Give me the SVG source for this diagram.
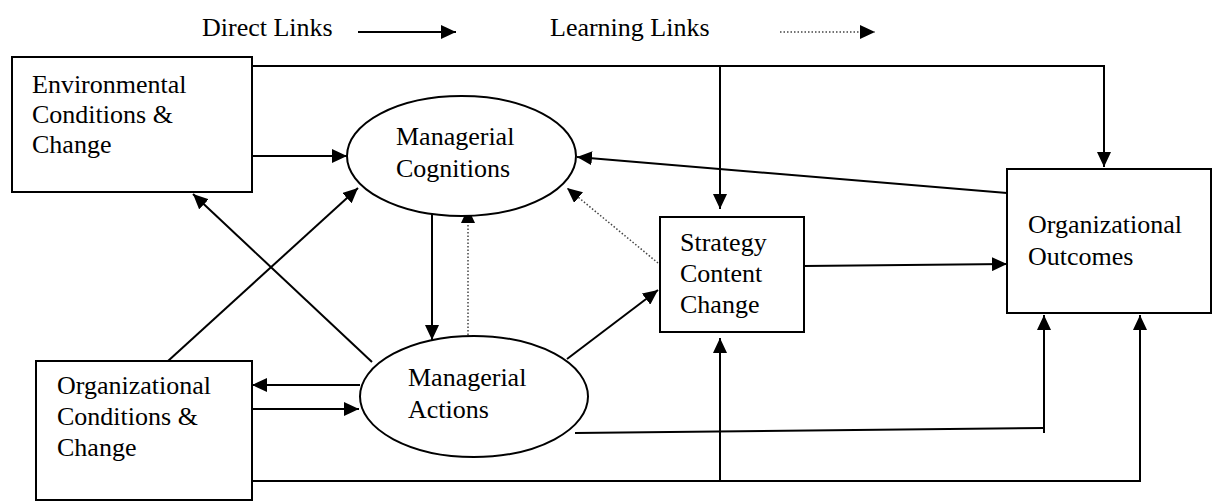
<svg xmlns="http://www.w3.org/2000/svg" width="1217" height="503" viewBox="0 0 1217 503">
<defs>
<marker id="ah" markerUnits="userSpaceOnUse" markerWidth="16" markerHeight="14" refX="15" refY="7" orient="auto">
<path d="M0,0 L15,7 L0,14 z" fill="#000"/>
</marker>
<style>
text{font-family:"Liberation Serif","Times New Roman",serif;font-size:26px;fill:#000}
.box{fill:#fff;stroke:#000;stroke-width:2}
.ln{fill:none;stroke:#000;stroke-width:2}
.dot{fill:none;stroke:#444;stroke-width:1.5;stroke-dasharray:1.5 2}
.arr{marker-end:url(#ah)}
</style>
</defs>
<rect width="1217" height="503" fill="#fff"/>
<g id="legend">
<text x="202" y="36">Direct Links</text>
<line class="ln arr" x1="358" y1="32" x2="456" y2="32"/>
<text x="550" y="36">Learning Links</text>
<line class="dot arr" x1="780" y1="32" x2="875" y2="32"/>
</g>
<g id="connectors">
<polyline class="ln arr" points="252,66 1104,66 1104,167"/>
<line class="ln arr" x1="720" y1="66" x2="720" y2="209"/>
<line class="ln arr" x1="252" y1="156" x2="347" y2="156"/>
<line class="ln arr" x1="1007" y1="193" x2="577" y2="157"/>
<line class="ln arr" x1="804" y1="266" x2="1007" y2="264"/>
<line class="ln arr" x1="432" y1="210" x2="432" y2="340"/>
<line class="dot arr" x1="468" y1="335" x2="468" y2="208"/>
<line class="dot arr" x1="658" y1="263" x2="567" y2="188"/>
<line class="ln arr" x1="168" y1="361" x2="358" y2="188"/>
<line class="ln arr" x1="372" y1="362" x2="193" y2="194"/>
<line class="ln arr" x1="567" y1="359" x2="658" y2="290"/>
<line class="ln arr" x1="360" y1="385" x2="252" y2="385"/>
<line class="ln arr" x1="252" y1="409" x2="359" y2="409"/>
<line class="ln" x1="575" y1="433" x2="1044" y2="428"/>
<line class="ln arr" x1="1044" y1="433" x2="1044" y2="315"/>
<polyline class="ln arr" points="252,481 1140,481 1140,315"/>
<line class="ln arr" x1="720" y1="481" x2="720" y2="338"/>
</g>
<g id="env">
<rect class="box" x="12" y="57" width="240" height="135"/>
<text x="32" y="93">Environmental</text>
<text x="32" y="123">Conditions &amp;</text>
<text x="32" y="153">Change</text>
</g>
<g id="cog">
<ellipse class="box" cx="461.5" cy="156" rx="114.5" ry="60"/>
<text x="396" y="145">Managerial</text>
<text x="396" y="177">Cognitions</text>
</g>
<g id="strategy">
<rect class="box" x="660" y="217" width="144" height="115"/>
<text x="680" y="251">Strategy</text>
<text x="680" y="282">Content</text>
<text x="680" y="313">Change</text>
</g>
<g id="outcomes">
<rect class="box" x="1007" y="169" width="204" height="144"/>
<text x="1028" y="233">Organizational</text>
<text x="1028" y="265">Outcomes</text>
</g>
<g id="actions">
<ellipse class="box" cx="474" cy="396.5" rx="114" ry="60.5"/>
<text x="408" y="386">Managerial</text>
<text x="408" y="418">Actions</text>
</g>
<g id="org">
<rect class="box" x="36" y="361" width="216" height="139"/>
<text x="57" y="394">Organizational</text>
<text x="57" y="425">Conditions &amp;</text>
<text x="57" y="456">Change</text>
</g>
</svg>
